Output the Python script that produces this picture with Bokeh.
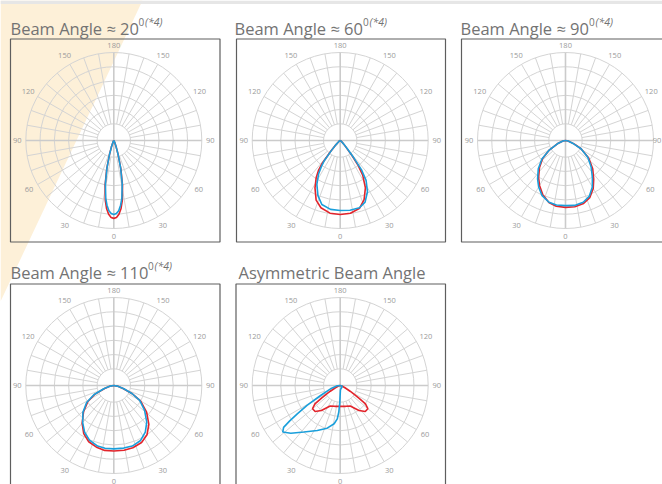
import numpy as np
from bokeh.plotting import figure
from bokeh.models import Range1d
from bokeh.core.properties import value
from bokeh.embed import file_html
from bokeh.resources import INLINE

# ---------------- data ----------------
titles = ["Beam Angle ≈ 20", "Beam Angle ≈ 60", "Beam Angle ≈ 90",
          "Beam Angle ≈ 110", "Asymmetric Beam Angle"]
title_sups = ["0", "0", "0", "0", ""]
title_notes = ["(*4)", "(*4)", "(*4)", "(*4)", ""]
tick_angles = [0, 30, 60, 90, 120, 150, 180]
tick_labels = ["0", "30", "60", "90", "120", "150", "180"]

# intensities relative to outer ring (1.0); angle from nadir, negative = left
p1_angle = [-90, -30, -24, -20, -17, -14, -11, -8, -6, -4, -2, 0, 2, 4, 6, 8, 11, 14, 17, 20, 24, 30, 90]
p1_red = [0, 0.01, 0.03, 0.08, 0.17, 0.33, 0.52, 0.69, 0.78, 0.84, 0.875, 0.885, 0.875, 0.84, 0.78, 0.69, 0.52, 0.33, 0.17, 0.08, 0.03, 0.01, 0]
p1_blue = [0, 0.01, 0.03, 0.08, 0.17, 0.32, 0.50, 0.66, 0.74, 0.80, 0.83, 0.84, 0.83, 0.80, 0.74, 0.66, 0.50, 0.32, 0.17, 0.08, 0.03, 0.01, 0]

p2_angle = [-90, -60, -50, -45, -41, -38, -36, -33, -28, -22, -16, -8, 0, 8, 16, 22, 28, 33, 36, 38, 41, 45, 50, 60, 90]
p2_red = [0, 0.01, 0.03, 0.07, 0.17, 0.34, 0.42, 0.50, 0.61, 0.73, 0.795, 0.834, 0.84, 0.834, 0.80, 0.725, 0.61, 0.47, 0.34, 0.22, 0.10, 0.05, 0.025, 0.01, 0]
p2_blue = [0, 0.01, 0.03, 0.07, 0.16, 0.30, 0.36, 0.45, 0.565, 0.675, 0.757, 0.79, 0.795, 0.80, 0.795, 0.755, 0.66, 0.54, 0.41, 0.25, 0.12, 0.05, 0.025, 0.01, 0]

p3_angle = [-90, -80, -68, -59, -52, -44, -36, -30, -23, -15, -8, 0, 8, 16, 23, 30, 36, 44, 53, 62, 68, 80, 90]
p3_red = [0, 0.03, 0.10, 0.22, 0.33, 0.425, 0.52, 0.59, 0.665, 0.73, 0.755, 0.76, 0.76, 0.745, 0.705, 0.63, 0.545, 0.445, 0.33, 0.20, 0.11, 0.03, 0]
p3_blue = [0, 0.03, 0.10, 0.22, 0.34, 0.445, 0.54, 0.61, 0.68, 0.726, 0.74, 0.74, 0.745, 0.73, 0.69, 0.61, 0.52, 0.42, 0.317, 0.20, 0.10, 0.03, 0]

p4_angle = [-90, -80, -72, -65, -58, -49, -40, -32, -24, -15, -8, 0, 9, 17, 26, 34, 42, 51, 60, 66, 72, 80, 90]
p4_red = [0, 0.04, 0.11, 0.24, 0.35, 0.455, 0.56, 0.645, 0.70, 0.73, 0.745, 0.745, 0.745, 0.74, 0.72, 0.675, 0.595, 0.48, 0.35, 0.23, 0.11, 0.04, 0]
p4_blue = [0, 0.04, 0.12, 0.25, 0.364, 0.465, 0.55, 0.626, 0.68, 0.713, 0.72, 0.72, 0.72, 0.72, 0.695, 0.64, 0.56, 0.45, 0.34, 0.23, 0.12, 0.04, 0]

p5_red_angle = [-90, -75, -65, -60, -58, -56, -54, -50, -44, -37, -26, -15, 0, 15, 26, 37, 44, 50, 54, 56, 58, 60, 65, 75, 90]
p5_red = [0, 0.02, 0.06, 0.13, 0.18, 0.26, 0.355, 0.41, 0.41, 0.355, 0.26, 0.245, 0.235, 0.245, 0.26, 0.355, 0.41, 0.41, 0.355, 0.26, 0.18, 0.13, 0.06, 0.02, 0]
p5_blue_angle = [-90, -84, -71, -63, -59, -56.5, -55, -53.5, -51, -46, -38, -27, -17, -9, -5, -3, -1.5, 0, 3, 10, 30, 60, 75, 90]
p5_blue = [0, 0.034, 0.116, 0.25, 0.44, 0.585, 0.70, 0.80, 0.84, 0.78, 0.67, 0.574, 0.507, 0.44, 0.38, 0.30, 0.20, 0.10, 0.05, 0.04, 0.03, 0.025, 0.02, 0]

curves = [
    (p1_angle, p1_red, p1_angle, p1_blue),
    (p2_angle, p2_red, p2_angle, p2_blue),
    (p3_angle, p3_red, p3_angle, p3_blue),
    (p4_angle, p4_red, p4_angle, p4_blue),
    (p5_red_angle, p5_red, p5_blue_angle, p5_blue),
]

# ---------------- layout ----------------
centers = [(113.3, 140), (339.7, 140), (565, 140), (113.3, 385), (339.7, 385)]
boxes = [(10, 219.5, 38.5, 241.5), (236, 445, 38.5, 241.5), (461, 690, 38.5, 241.5),
         (10, 219.5, 283.5, 500), (235.5, 445, 283.5, 500)]
title_pos = [(10, 28), (234, 28), (460, 28), (10, 272), (238, 272)]
sup_x = [138, 362.5, 588.5, 147.5, 0]
R = 88.0
R_HOLE = 16.7
N_RINGS = 5
lab_radius = {0: 95.5, 30: 98, 60: 98, 90: 96.5, 120: 99, 150: 98.5, 180: 95.5}
X_MAX_LABEL = 656.5

RED = "#e3242b"
BLUE = "#1a9fdb"
GRID = "#d4d4d4"
FONT = value("Open Sans")

p = figure(width=662, height=484, x_range=Range1d(0, 662), y_range=Range1d(484, 0),
           output_backend="svg", toolbar_location=None, min_border=0,
           x_axis_type=None, y_axis_type=None)
p.grid.visible = False
p.outline_line_color = None
p.background_fill_color = "white"
p.border_fill_color = "white"

# decorative background
p.patch([0, 142, 0], [0, 0, 301], fill_color="#fdf0d8", line_color=None)
p.quad(left=[0], right=[700], top=[0], bottom=[3.5], fill_color="#e6e6e6", line_color=None)

for i, (cx, cy) in enumerate(centers):
    # rings
    radii = [R_HOLE + k * (R - R_HOLE) / N_RINGS for k in range(N_RINGS + 1)]
    p.circle(x=[cx] * len(radii), y=[cy] * len(radii), radius=radii,
             fill_color=None, line_color=GRID, line_width=1)
    # spokes
    xs, ys = [], []
    for a in range(0, 360, 10):
        if a % 90 == 0:
            continue
        t = np.deg2rad(a)
        xs.append([cx + R_HOLE * np.sin(t), cx + R * np.sin(t)])
        ys.append([cy + R_HOLE * np.cos(t), cy + R * np.cos(t)])
    p.multi_line(xs, ys, line_color=GRID, line_width=1)
    # main axes
    p.multi_line([[cx - R, cx + R], [cx, cx]], [[cy, cy], [cy - R, cy + R]],
                 line_color="#cbcbcb", line_width=1.6)
    # angle labels
    lx, ly, lt = [], [], []
    for a, lab in zip(tick_angles, tick_labels):
        t = np.deg2rad(a)
        rl = lab_radius[a]
        for s in ([1] if a in (0, 180) else [-1, 1]):
            lx.append(min(cx + s * rl * np.sin(t), X_MAX_LABEL))
            ly.append(cy + rl * np.cos(t))
            lt.append(lab)
    p.text(x=lx, y=ly, text=lt, text_font=FONT, text_font_size="7.5px",
           text_color="#9a9a9a", text_align="center", text_baseline="middle")
    # curves
    ra, rv, ba, bv = curves[i]
    for ang, val, col in ((ra, rv, RED), (ba, bv, BLUE)):
        t = np.deg2rad(np.array(ang, dtype=float))
        r = np.array(val, dtype=float) * R
        p.line(cx + r * np.sin(t), cy + r * np.cos(t), line_color=col, line_width=1.6)
    # box
    l, rr, t0, b0 = boxes[i]
    p.quad(left=[l], right=[rr], top=[t0], bottom=[b0], fill_color=None,
           line_color="#5e5e5e", line_width=1.2)
    # titles
    tx, ty = title_pos[i]
    p.text(x=[tx], y=[ty], text=[titles[i]], text_font=FONT, text_font_size="16.5px",
           text_color="#737373", text_align="left", text_baseline="alphabetic")
    if title_sups[i]:
        p.text(x=[sup_x[i]], y=[ty - 7], text=[title_sups[i]], text_font=FONT,
               text_font_size="10px", text_color="#737373", text_align="left",
               text_baseline="alphabetic")
        p.text(x=[sup_x[i] + 6.5], y=[ty - 7], text=[title_notes[i]], text_font=FONT,
               text_font_size="10.5px", text_font_style="italic", text_color="#737373",
               text_align="left", text_baseline="alphabetic")

open("out.html", "w").write(file_html(p, INLINE))
